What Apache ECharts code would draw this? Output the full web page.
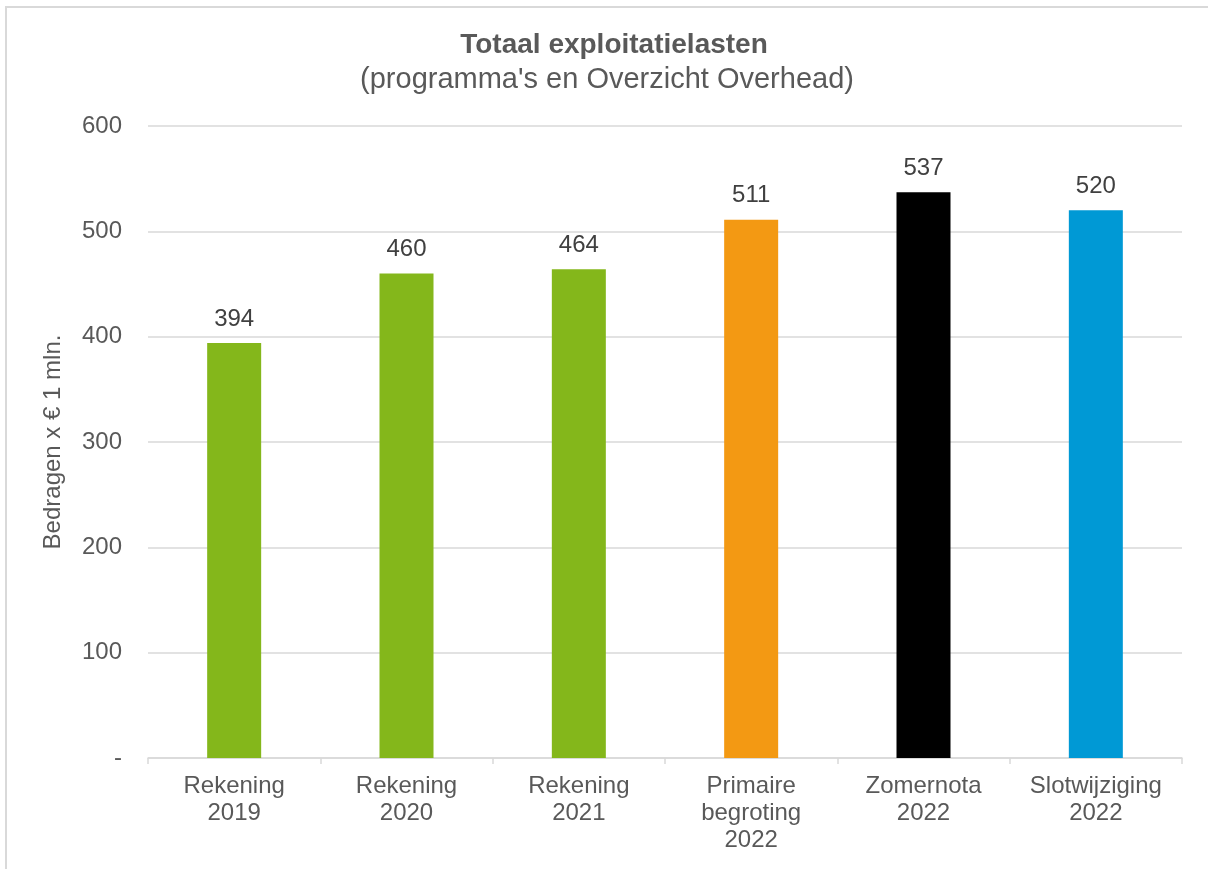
<!DOCTYPE html>
<html><head><meta charset="utf-8">
<script src="https://cdn.jsdelivr.net/npm/echarts@6/dist/echarts.min.js"></script>
<style>
html,body{margin:0;padding:0;background:#fff;}
#frame{position:absolute;left:5px;top:6px;width:1210px;height:870px;border:2px solid #d9d9d9;box-sizing:border-box;}
#chart{position:absolute;left:0;top:0;width:1208px;height:869px;}
</style></head>
<body>
<div id="frame"></div>
<div id="chart"></div>
<script>
const categories = ['Rekening\n2019','Rekening\n2020','Rekening\n2021','Primaire\nbegroting\n2022','Zomernota\n2022','Slotwijziging\n2022'];
const values = [394, 460, 464, 511, 537, 520];
const barColors = ['#84b71b','#84b71b','#84b71b','#f39913','#000000','#0099d5'];
const yTicks = [0,100,200,300,400,500,600];

const chart = echarts.init(document.getElementById('chart'), null, {renderer:'canvas'});
const font = 'Liberation Sans, Arial, sans-serif';
chart.setOption({
  animation:false,
  title:[{
    text:'Totaal exploitatielasten',
    left:609, top:26, textAlign:'center',
    textStyle:{fontFamily:font,fontSize:28,fontWeight:'bold',color:'#595959'}
  },{
    text:"(programma's en Overzicht Overhead)",
    left:602, top:60, textAlign:'center',
    textStyle:{fontFamily:font,fontSize:29,fontWeight:'normal',color:'#595959'}
  }],
  grid:{left:148,right:26,top:126,bottom:111,containLabel:false},
  xAxis:{
    type:'category', data:categories,
    axisLine:{lineStyle:{color:'#d9d9d9',width:1.5}},
    axisTick:{show:true,alignWithLabel:false,length:6,lineStyle:{color:'#d9d9d9',width:1.5}},
    axisLabel:{fontFamily:font,fontSize:24,color:'#595959',lineHeight:27,margin:15,interval:0}
  },
  yAxis:{
    type:'value', min:yTicks[0], max:yTicks[yTicks.length-1], interval:100,
    name:'Bedragen x € 1 mln.', nameLocation:'middle', nameGap:83,
    nameTextStyle:{fontFamily:font,fontSize:24,color:'#595959'},
    axisLine:{show:false}, axisTick:{show:false},
    splitLine:{lineStyle:{color:'#d9d9d9',width:1.5}},
    axisLabel:{fontFamily:font,fontSize:24,color:'#595959',margin:26,
      formatter:v=> v===0 ? '-' : String(v)}
  },
  series:[{
    type:'bar', barWidth:54,
    data: values.map((v,i)=>({value:v,itemStyle:{color:barColors[i]}})),
    label:{show:true,position:'top',distance:12,fontFamily:font,fontSize:24,color:'#404040'}
  }]
});
</script>
</body></html>
